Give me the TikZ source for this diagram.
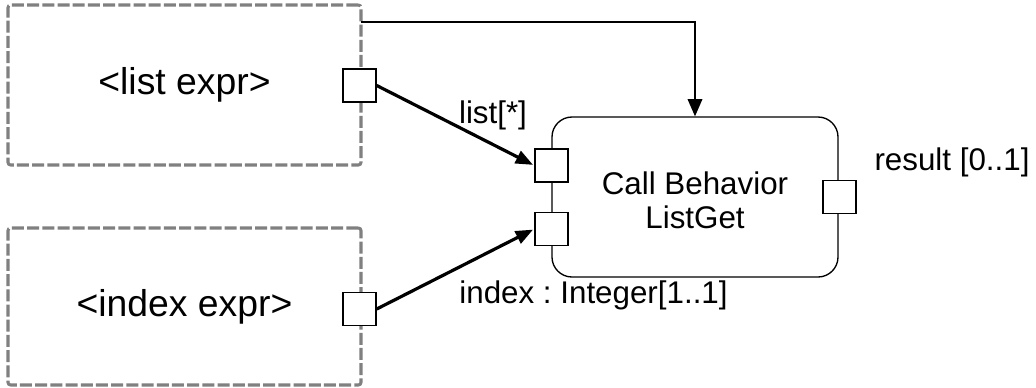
\documentclass[tikz,border=0pt]{standalone}
\usepackage{fontspec}
\setmainfont{Liberation Sans}
\usetikzlibrary{arrows.meta}
\frenchspacing
\begin{document}
\begin{tikzpicture}[x=0.75pt,y=-0.75pt,
  exprbox/.style={draw=black!50, line width=2.3pt, dash pattern=on 9pt off 2.4pt, rounded corners=2pt,
     minimum width=264.75pt, inner sep=0pt, font=\fontsize{28}{30}\selectfont},
  pin/.style={draw=black, fill=white, line width=1.1pt, minimum size=24.75pt, inner sep=0pt},
  actbox/.style={draw=black, line width=1pt, rounded corners=15pt, minimum width=214.5pt, minimum height=120pt, inner sep=0pt},
  lbl/.style={font=\fontsize{23.5}{25.5}\selectfont, inner sep=0pt},
  flow/.style={line width=2.4pt, -{Triangle[length=13pt,width=10pt]}, shorten >=1pt},
  ctrl/.style={line width=1.2pt, -{Triangle[length=13pt,width=11pt]}}
]
\useasboundingbox (0,0) rectangle (1036,387);
\node[exprbox, minimum height=120pt] (b1) at (184.5,85) {<list expr>};
\node[exprbox, minimum height=117.75pt] (b2) at (184.5,306.5) {<index expr>};
\node[actbox] (act) at (695,197) {};
\node[lbl, align=center] (actlbl) at (695,200) {Call Behavior\\ListGet};
\node[pin] (p1) at (359.5,85.5) {};
\node[pin] (p2) at (359.5,309) {};
\node[pin] (lp) at (551.5,165.5) {};
\node[pin] (ip) at (551.5,229) {};
\node[pin] (rp) at (839.5,197) {};
\coordinate (tl) at (361,22);
\draw[ctrl] (tl) -| (act.north);
\draw[flow] (p1.east) -- (lp.west);
\draw[flow] (p2.east) -- (ip.west);
\node[lbl] (ll) at (493,115) {list[*]};
\node[lbl] (il) at (593.5,295) {index : Integer[1..1]};
\node[lbl] (rl) at (952,162) {result [0..1]};
\end{tikzpicture}
\end{document}
